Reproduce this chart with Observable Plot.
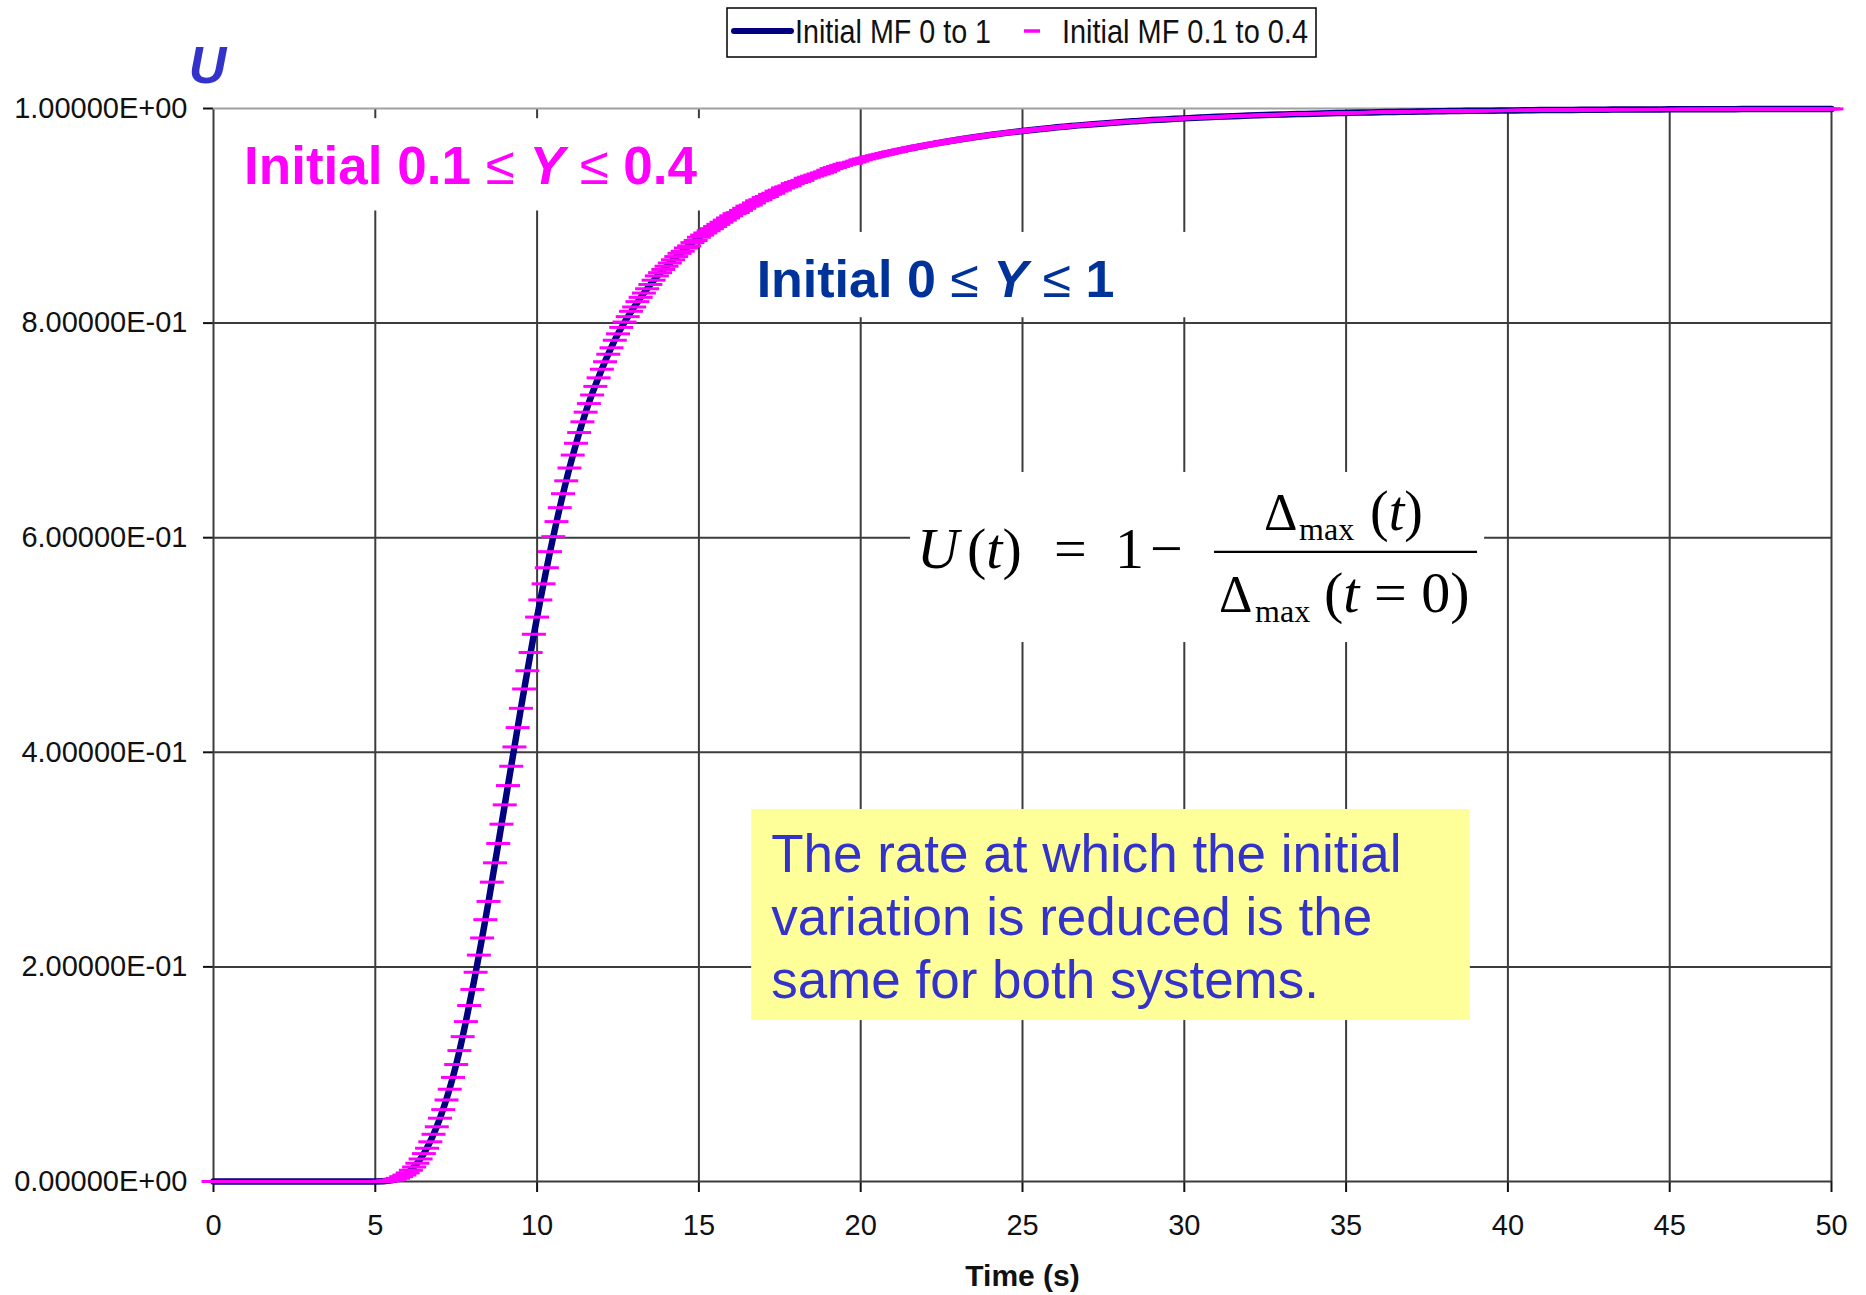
<!DOCTYPE html>
<html>
<head>
<meta charset="utf-8">
<script src="https://cdn.jsdelivr.net/npm/d3@7"></script>
<script src="https://cdn.jsdelivr.net/npm/@observablehq/plot@0.6"></script>
<style>
  html, body { margin: 0; padding: 0; background: #fff; }
  #chart { width: 1866px; height: 1295px; }
  #chart svg [aria-label$="axis tick"] { stroke-width: 2px; }
</style>
</head>
<body>
<div id="chart"></div>
<script>
// Run with initial mass fraction 0.1–0.4: uniformity U logged every 0.1 s (one dash per sample)
const markerStep = 0.1;
const uInitial01to04 = [
  0, 0, 0, 0, 0, 0, 0, 0, 0, 0,
  0, 0, 0, 0, 0, 0, 0, 0, 0, 0,
  0, 0, 0, 0, 0, 0, 0, 0, 0, 0,
  0, 0, 0, 0, 0, 0, 0, 0, 0, 0,
  0, 0, 0, 0, 0, 0, 0, 0, 0, 0,
  0, 0, 0.0001, 0.0003, 0.0007, 0.0012, 0.002, 0.003, 0.0045, 0.006,
  0.008, 0.0105, 0.0135, 0.017, 0.021, 0.026, 0.031, 0.037, 0.044, 0.051,
  0.059, 0.067, 0.076, 0.086, 0.097, 0.109, 0.122, 0.135, 0.149, 0.164,
  0.179, 0.195, 0.211, 0.227, 0.244, 0.261, 0.279, 0.297, 0.315, 0.333,
  0.351, 0.369, 0.387, 0.405, 0.423, 0.441, 0.459, 0.476, 0.493, 0.510,
  0.526, 0.542, 0.557, 0.572, 0.587, 0.601, 0.615, 0.628, 0.641, 0.653,
  0.665, 0.677, 0.688, 0.698, 0.708, 0.717, 0.725, 0.733, 0.741, 0.749,
  0.757, 0.764, 0.771, 0.777, 0.784, 0.790, 0.796, 0.801, 0.806, 0.811,
  0.815, 0.820, 0.824, 0.828, 0.832, 0.836, 0.840, 0.844, 0.847, 0.850,
  0.853, 0.856, 0.859, 0.862, 0.865, 0.867, 0.870, 0.872, 0.875, 0.877,
  0.880, 0.882, 0.884, 0.886, 0.888, 0.890, 0.892, 0.894, 0.896, 0.898,
  0.900, 0.902, 0.903, 0.905, 0.907, 0.909, 0.910, 0.912, 0.914, 0.915,
  0.917, 0.918, 0.920, 0.921, 0.923, 0.924, 0.926, 0.927, 0.928, 0.930,
  0.931, 0.932, 0.933, 0.935, 0.936, 0.937, 0.938, 0.939, 0.940, 0.941,
  0.9425, 0.944, 0.945, 0.946, 0.947, 0.948, 0.949, 0.949, 0.950, 0.951,
  0.9522, 0.9530, 0.9537, 0.9545, 0.9552, 0.9560, 0.9567, 0.9574, 0.9581, 0.9588,
  0.9595, 0.9601, 0.9608, 0.9614, 0.9621, 0.9627, 0.9633, 0.9639, 0.9645, 0.9651,
  0.9656, 0.9662, 0.9667, 0.9673, 0.9678, 0.9684, 0.9689, 0.9694, 0.9699, 0.9704,
  0.9709, 0.9713, 0.9718, 0.9723, 0.9727, 0.9732, 0.9736, 0.9740, 0.9745, 0.9749,
  0.9753, 0.9757, 0.9761, 0.9765, 0.9769, 0.9773, 0.9776, 0.9780, 0.9784, 0.9787,
  0.9791, 0.9794, 0.9797, 0.9801, 0.9804, 0.9807, 0.9810, 0.9813, 0.9816, 0.9819,
  0.9822, 0.9825, 0.9828, 0.9831, 0.9834, 0.9837, 0.9839, 0.9842, 0.9844, 0.9847,
  0.9849, 0.9852, 0.9854, 0.9856, 0.9859, 0.9861, 0.9863, 0.9865, 0.9868, 0.9870,
  0.9872, 0.9874, 0.9876, 0.9878, 0.9880, 0.9882, 0.9884, 0.9886, 0.9888, 0.9890,
  0.9892, 0.9894, 0.9895, 0.9897, 0.9899, 0.9900, 0.9902, 0.9903, 0.9905, 0.9906,
  0.9908, 0.9909, 0.9911, 0.9912, 0.9914, 0.9915, 0.9916, 0.9918, 0.9919, 0.9921,
  0.9922, 0.9923, 0.9924, 0.9926, 0.9927, 0.9928, 0.9929, 0.9930, 0.9931, 0.9933,
  0.9934, 0.9935, 0.9936, 0.9937, 0.9938, 0.9939, 0.9940, 0.9941, 0.9942, 0.9943,
  0.9944, 0.9945, 0.9946, 0.9946, 0.9947, 0.9948, 0.9949, 0.9950, 0.9950, 0.9951,
  0.9952, 0.9953, 0.9953, 0.9954, 0.9955, 0.9955, 0.9956, 0.9957, 0.9957, 0.9958,
  0.9959, 0.9960, 0.9960, 0.9961, 0.9961, 0.9962, 0.9962, 0.9963, 0.9964, 0.9964,
  0.9965, 0.9966, 0.9966, 0.9967, 0.9967, 0.9968, 0.9968, 0.9969, 0.9969, 0.9970,
  0.9970, 0.9971, 0.9971, 0.9972, 0.9972, 0.9972, 0.9973, 0.9973, 0.9974, 0.9974,
  0.9975, 0.9975, 0.9976, 0.9976, 0.9976, 0.9977, 0.9977, 0.9978, 0.9978, 0.9978,
  0.9979, 0.9979, 0.9979, 0.9980, 0.9980, 0.9980, 0.9981, 0.9981, 0.9981, 0.9981,
  0.9982, 0.9982, 0.9982, 0.9983, 0.9983, 0.9983, 0.9983, 0.9984, 0.9984, 0.9984,
  0.9985, 0.9985, 0.9985, 0.9985, 0.9986, 0.9986, 0.9986, 0.9986, 0.9986, 0.9987,
  0.9987, 0.9987, 0.9987, 0.9987, 0.9988, 0.9988, 0.9988, 0.9988, 0.9988, 0.9988,
  0.9989, 0.9989, 0.9989, 0.9989, 0.9989, 0.9989, 0.9990, 0.9990, 0.9990, 0.9990,
  0.9990, 0.9990, 0.9990, 0.9991, 0.9991, 0.9991, 0.9991, 0.9991, 0.9991, 0.9991,
  0.9992, 0.9992, 0.9992, 0.9992, 0.9992, 0.9992, 0.9993, 0.9993, 0.9993, 0.9993,
  0.9993, 0.9993, 0.9993, 0.9993, 0.9993, 0.9994, 0.9994, 0.9994, 0.9994, 0.9994,
  0.9994, 0.9994, 0.9994, 0.9994, 0.9994, 0.9995, 0.9995, 0.9995, 0.9995, 0.9995,
  0.9995, 0.9995, 0.9995, 0.9995, 0.9995, 0.9996, 0.9996, 0.9996, 0.9996, 0.9996,
  0.9996, 0.9996, 0.9996, 0.9996, 0.9996, 0.9996, 0.9996, 0.9996, 0.9996, 0.9996,
  0.9996
];

// Run with initial mass fraction 0–1: uniformity U every 0.5 s (drawn as a line)
const lineStep = 0.5;
const uInitial0to1 = [
  0, 0, 0, 0, 0, 0, 0, 0, 0, 0, 0,
  0.0012, 0.008, 0.026, 0.059, 0.109, 0.179, 0.261, 0.351, 0.441, 0.526,
  0.601, 0.665, 0.717, 0.757, 0.790, 0.815, 0.836, 0.853, 0.867, 0.880,
  0.890, 0.900, 0.909, 0.917, 0.924, 0.931, 0.937, 0.9425, 0.948, 0.9522,
  0.9560, 0.9595, 0.9627, 0.9656, 0.9684, 0.9709, 0.9732, 0.9753, 0.9773, 0.9791,
  0.9807, 0.9822, 0.9837, 0.9849, 0.9861, 0.9872, 0.9882, 0.9892, 0.9900, 0.9908,
  0.9915, 0.9922, 0.9928, 0.9934, 0.9939, 0.9944, 0.9948, 0.9952, 0.9955, 0.9959,
  0.9962, 0.9965, 0.9968, 0.9970, 0.9972, 0.9975, 0.9977, 0.9979, 0.9980, 0.9982,
  0.9983, 0.9985, 0.9986, 0.9987, 0.9988, 0.9989, 0.9990, 0.9990, 0.9991, 0.9992,
  0.9992, 0.9993, 0.9994, 0.9994, 0.9995, 0.9995, 0.9996, 0.9996, 0.9996, 0.9996
];

const timeTicks = [0, 5, 10, 15, 20, 25, 30, 35, 40, 45, 50];
const uTicks = [0, 0.2, 0.4, 0.6, 0.8, 1];
const seriesNames = ["Initial MF 0 to 1", "Initial MF 0.1 to 0.4"];
const seriesColors = ["#000080", "#ff00ff"];

const sans = "'Liberation Sans', Arial, Helvetica, sans-serif";
const serif = "'Liberation Serif', 'Times New Roman', Times, serif";

const lineRows = uInitial0to1.map((u, i) => ({t: +(i * lineStep).toFixed(1), u}));
const markerRows = uInitial01to04.map((u, i) => ({t: +(i * markerStep).toFixed(1), u}));

// Spreadsheet-style scientific labels, e.g. 8.00000E-01
function sciLabel(v) {
  const [mant, exp] = v.toExponential(5).split("e");
  const sign = exp[0] === "-" ? "-" : "+";
  return `${mant}E${sign}${exp.replace(/[+-]/, "").padStart(2, "0")}`;
}

// Horizontal dash used as the point marker
const dashSymbol = {
  draw(context, size) {
    const h = Math.sqrt(size / Math.PI);
    context.moveTo(-h, 0);
    context.lineTo(h, 0);
  }
};

const chart = Plot.plot({
  width: 1866,
  height: 1295,
  marginLeft: 213,
  marginRight: 35,
  marginTop: 108,
  marginBottom: 114,
  style: {fontFamily: sans, fontSize: "29px", color: "#111", background: "#fff"},
  x: {domain: [0, 50], ticks: timeTicks, tickSize: 11, tickPadding: 22, label: null},
  y: {domain: [0, 1], ticks: uTicks, tickSize: 10, tickPadding: 16, tickFormat: sciLabel, label: null},
  marks: [
    Plot.ruleX(timeTicks, {stroke: "#3c3c3c", strokeWidth: 2}),
    Plot.ruleY(uTicks.filter((u) => u < 1), {stroke: "#3c3c3c", strokeWidth: 2}),
    Plot.ruleY(uTicks.filter((u) => u === 1), {stroke: "#a0a0a0", strokeWidth: 2}),
    Plot.line(lineRows, {x: "t", y: "u", stroke: seriesColors[0], strokeWidth: 6.5, curve: "monotone-x"}),
    Plot.dot(markerRows, {x: "t", y: "u", symbol: dashSymbol, r: 12, fill: "none", stroke: seriesColors[1], strokeWidth: 3}),
    Plot.text(["U"], {frameAnchor: "top-left", textAnchor: "middle", lineAnchor: "middle", dx: -6, dy: -42,
      fontSize: 52, fontWeight: "bold", fontStyle: "italic", fill: "#3333cc"}),
    Plot.text(["Time (s)"], {frameAnchor: "bottom", textAnchor: "middle", lineAnchor: "middle", dy: 95,
      fontSize: 30, fontWeight: "bold", fill: "#111"})
  ]
});
document.getElementById("chart").append(chart);

// Annotations placed in data units through the chart's scales
const X = chart.scale("x"), Y = chart.scale("y");
const px = (t) => X.apply(t), py = (u) => Y.apply(u);
const svg = d3.select(chart);
const firstLine = svg.select('g[aria-label="line"]').node();
const backs = firstLine ? svg.insert("g", () => firstLine) : svg.append("g");
const fronts = svg.append("g").attr("text-anchor", "start");

function panel(t1, t2, uTop, uBottom, fill) {
  const x = px(t1), y = py(uTop);
  backs.append("rect").attr("x", x).attr("y", y)
    .attr("width", px(t2) - x).attr("height", py(uBottom) - y).attr("fill", fill);
  return {x, y};
}

function rangeLabel(t, u, color, size, parts) {
  const txt = fronts.append("text").attr("x", px(t)).attr("y", py(u))
    .attr("fill", color).attr("font-family", sans).attr("font-size", size).attr("font-weight", "bold");
  for (const [s, style] of parts) {
    const sp = txt.append("tspan").text(s);
    if (style === "sym") sp.attr("font-weight", "normal");
    if (style === "var") sp.attr("font-style", "italic");
  }
}

panel(0.55, 15.3, 0.9905, 0.9045, "#fff");
rangeLabel(0.96, 0.929, "#ff00ff", 53, [["Initial 0.1 "], ["≤", "sym"], [" "], ["Y", "var"], [" "], ["≤", "sym"], [" 0.4"]]);

panel(16.3, 30.5, 0.8845, 0.805, "#fff");
rangeLabel(16.8, 0.8235, "#003399", 52, [["Initial 0 "], ["≤", "sym"], [" "], ["Y", "var"], [" "], ["≤", "sym"], [" 1"]]);

// U(t) = 1 − Δmax(t) / Δmax(t = 0)
const f = panel(21.54, 39.28, 0.6608, 0.5023, "#fff");
function mathText(x, y, size, parts) {
  const txt = fronts.append("text").attr("x", f.x + x).attr("y", f.y + y)
    .attr("font-family", serif).attr("font-size", size).attr("fill", "#000");
  for (const [s, italic, dx] of parts) {
    const sp = txt.append("tspan").text(s);
    if (italic) sp.attr("font-style", "italic");
    if (dx) sp.attr("dx", dx);
  }
}
mathText(7, 96, 58, [["U", true], ["(", false, 8], ["t", true], [")"]]);
mathText(144, 96, 58, [["="]]);
mathText(205, 96, 58, [["1"]]);
mathText(240, 96, 58, [["\u2212"]]);
fronts.append("line").attr("x1", f.x + 304).attr("x2", f.x + 567)
  .attr("y1", f.y + 80).attr("y2", f.y + 80).attr("stroke", "#000").attr("stroke-width", 2.2);
mathText(354, 58, 52, [["Δ"]]);
mathText(389, 68, 32, [["max"]]);
mathText(460, 58, 56, [["("], ["t", true], [")"]]);
mathText(309, 140, 52, [["Δ"]]);
mathText(345, 150, 32, [["max"]]);
mathText(414, 140, 58, [["("], ["t", true], [" = 0)"]]);

// Yellow note
const n = panel(16.63, 38.84, 0.3467, 0.15, "#ffff99");
const noteLines = ["The rate at which the initial", "variation is reduced is the", "same for both systems."];
noteLines.forEach((s, i) => {
  fronts.append("text").attr("x", n.x + 20).attr("y", n.y + 63 + i * 63)
    .attr("font-family", sans).attr("font-size", 53).attr("fill", "#3333cc").text(s);
});

// Legend
const lg = fronts.append("g");
lg.append("rect").attr("x", 727).attr("y", 8).attr("width", 589).attr("height", 49)
  .attr("fill", "#fff").attr("stroke", "#000").attr("stroke-width", 1.5);
lg.append("line").attr("x1", 734).attr("x2", 791).attr("y1", 31).attr("y2", 31)
  .attr("stroke", seriesColors[0]).attr("stroke-width", 6).attr("stroke-linecap", "round");
lg.append("line").attr("x1", 1024).attr("x2", 1040).attr("y1", 31).attr("y2", 31)
  .attr("stroke", seriesColors[1]).attr("stroke-width", 3.5);
[[795, 196, seriesNames[0]], [1062, 246, seriesNames[1]]].forEach(([x, w, s]) => {
  lg.append("text").attr("x", x).attr("y", 43).attr("font-family", sans).attr("font-size", 34)
    .attr("fill", "#111").attr("textLength", w).attr("lengthAdjust", "spacingAndGlyphs").text(s);
});
</script>
</body>
</html>
